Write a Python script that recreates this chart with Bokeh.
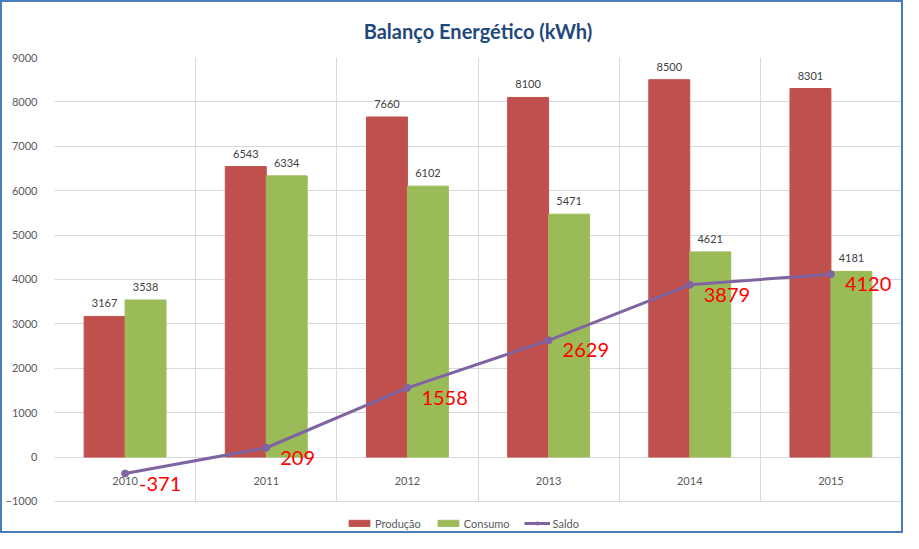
from bokeh.core.properties import value
from bokeh.embed import file_html
from bokeh.models import ColumnDataSource, FixedTicker, Legend, LegendItem, Range1d
from bokeh.plotting import figure
from bokeh.resources import INLINE
from bokeh.transform import dodge

years = ['2010', '2011', '2012', '2013', '2014', '2015']
producao = [3167, 6543, 7660, 8100, 8500, 8301]
consumo = [3538, 6334, 6102, 5471, 4621, 4181]
saldo = [-371, 209, 1558, 2629, 3879, 4120]

RED = '#C0504D'
GREEN = '#9BBB59'
PURPLE = '#8064A2'
GRID = '#D9D9D9'
TEXT = '#595959'
FONT = 'Lato'

Y_MIN, Y_MAX = -1000, 9000

# category centres on a numeric axis, so the grid can sit on the boundaries
centres = [i + 0.5 for i in range(len(years))]
bounds = list(range(len(years) + 1))

source = ColumnDataSource(dict(
    x=centres,
    year=years,
    zero=[0] * len(years),
    producao=producao,
    consumo=consumo,
    saldo=saldo,
    producao_txt=[str(v) for v in producao],
    consumo_txt=[str(v) for v in consumo],
    saldo_txt=[str(v) for v in saldo],
))

# the frame reaches below -1000 so the legend can live inside it;
# cross_bounds keep the grid (the visible plot area) at -1000..9000
p = figure(
    width=903,
    height=533,
    x_range=Range1d(0, len(years)),
    y_range=Range1d(-1700, Y_MAX),
    output_backend='svg',
    toolbar_location=None,
    title='Balanço Energético (kWh)',
    min_border_left=44,
    min_border_right=4,
    min_border_top=55,
    min_border_bottom=3,
    outline_line_color=None,
    styles={'border': '2px solid #4A7EBB', 'box-sizing': 'border-box'},
)

p.title.align = 'center'
p.title.text_font = FONT
p.title.text_font_size = '20px'
p.title.text_color = '#1F497D'
p.title.standoff = 29

p.yaxis.ticker = FixedTicker(ticks=list(range(Y_MIN, Y_MAX + 1, 1000)))
p.yaxis.axis_line_color = None
p.yaxis.major_tick_line_color = None
p.yaxis.minor_tick_line_color = None
p.yaxis.major_label_text_font = FONT
p.yaxis.major_label_text_font_size = '11px'
p.yaxis.major_label_text_color = TEXT
p.yaxis.major_label_standoff = 11

# the category axis crosses at zero, so its labels are drawn inside the frame
p.xaxis.visible = False
p.xgrid.ticker = FixedTicker(ticks=bounds)
p.xgrid.cross_bounds = (Y_MIN, Y_MAX)
p.ygrid.cross_bounds = (0, len(years))
p.grid.grid_line_color = GRID
p.grid.grid_line_width = 1

p.text(x='x', y='zero', text='year', text_font=value(FONT), text_font_size='11px',
       text_color=TEXT, text_align='center', text_baseline='middle', y_offset=24,
       source=source)

r_prod = p.vbar(x=dodge('x', -0.145, range=p.x_range), top='producao', bottom=0,
                width=0.29, color=RED, source=source)
r_cons = p.vbar(x=dodge('x', 0.145, range=p.x_range), top='consumo', bottom=0,
                width=0.29, color=GREEN, source=source)

label_style = dict(text_font=value(FONT), text_font_size='11px', text_color='#404040',
                   text_align='center', text_baseline='bottom', y_offset=-9, source=source)
p.text(x=dodge('x', -0.145, range=p.x_range), y='producao', text='producao_txt', **label_style)
p.text(x=dodge('x', 0.145, range=p.x_range), y='consumo', text='consumo_txt', **label_style)

r_line = p.line(x='x', y='saldo', line_color=PURPLE, line_width=3, source=source)
r_dot = p.scatter(x='x', y='saldo', size=7, color=PURPLE, source=source)
p.text(x='x', y='saldo', text='saldo_txt', text_font=value(FONT), text_font_size='20px',
       text_color='red', text_align='left', text_baseline='middle',
       x_offset=14, y_offset=10, source=source)

legend = Legend(
    items=[
        LegendItem(label='Produção', renderers=[r_prod]),
        LegendItem(label='Consumo', renderers=[r_cons]),
        LegendItem(label='Saldo', renderers=[r_line, r_dot]),
    ],
    orientation='horizontal',
    location=(292, 2),
    border_line_color=None,
    background_fill_alpha=0,
    label_text_font=FONT,
    label_text_font_size='11px',
    label_text_color=TEXT,
    label_height=14,
    glyph_width=26,
    glyph_height=8,
    label_standoff=3,
    spacing=14,
    padding=0,
    margin=0,
)
p.add_layout(legend)

open('out.html', 'w').write(file_html(p, INLINE))
